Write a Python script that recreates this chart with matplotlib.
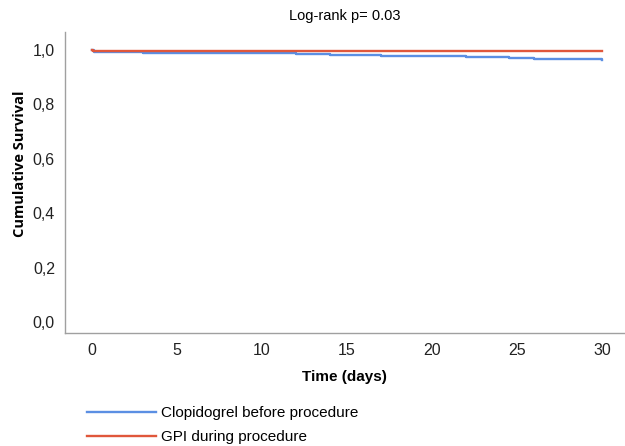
import matplotlib
matplotlib.use("Agg")
import matplotlib.pyplot as plt

plt.rcParams["font.family"] = ["Liberation Sans", "DejaVu Sans"]

# Kaplan-Meier step data (time in days, cumulative survival)
clop_t = [0, 0.1, 3, 8, 12, 14, 17, 22, 24.5, 26, 30]
clop_s = [1.0, 0.994, 0.991, 0.989, 0.985, 0.982, 0.978, 0.975, 0.972, 0.966, 0.965]
gpi_t = [0, 0.05, 30]
gpi_s = [1.0, 0.996, 0.996]

labels = ["Clopidogrel before procedure", "GPI during procedure"]
colors = ["#5b8fe3", "#e0573b"]
xticks = [0, 5, 10, 15, 20, 25, 30]
yticks = [0.0, 0.2, 0.4, 0.6, 0.8, 1.0]
ytick_labels = ["0,0", "0,2", "0,4", "0,6", "0,8", "1,0"]

fig = plt.figure(figsize=(6.25, 4.46), dpi=100)
ax = fig.add_axes([0.1035, 0.2534, 0.8965, 0.6746])

ax.plot(clop_t, clop_s, drawstyle="steps-post", color=colors[0], lw=1.7, label=labels[0])
ax.plot(gpi_t, gpi_s, drawstyle="steps-post", color=colors[1], lw=1.7, label=labels[1])

ax.set_xlim(-1.6, 31.35)
ax.set_ylim(-0.04, 1.066)
ax.set_xticks(xticks)
ax.set_yticks(yticks)
ax.set_yticklabels(ytick_labels)
ax.tick_params(length=0, labelsize=11.5, colors="#222222", pad=7)

for s in ["top", "right"]:
    ax.spines[s].set_visible(False)
for s in ["left", "bottom"]:
    ax.spines[s].set_color("#a0a0a0")
    ax.spines[s].set_linewidth(1.0)

ax.set_xlabel("Time (days)", fontsize=11, fontweight="bold", labelpad=9)
ax.set_ylabel("Cumulative Survival", fontsize=10.5, fontweight="bold",
              family=["Open Sans", "DejaVu Sans"])
ax.yaxis.set_label_coords(-0.068, 0.563)
ax.set_title("Log-rank p= 0.03", fontsize=10.5, pad=9)

fig.legend(loc="upper left", bbox_to_anchor=(0.139, 0.089), frameon=False,
           fontsize=11, handlelength=4.5, handletextpad=0.35,
           labelspacing=0.65, borderpad=0, borderaxespad=0)

fig.savefig("out.png", dpi=100)
